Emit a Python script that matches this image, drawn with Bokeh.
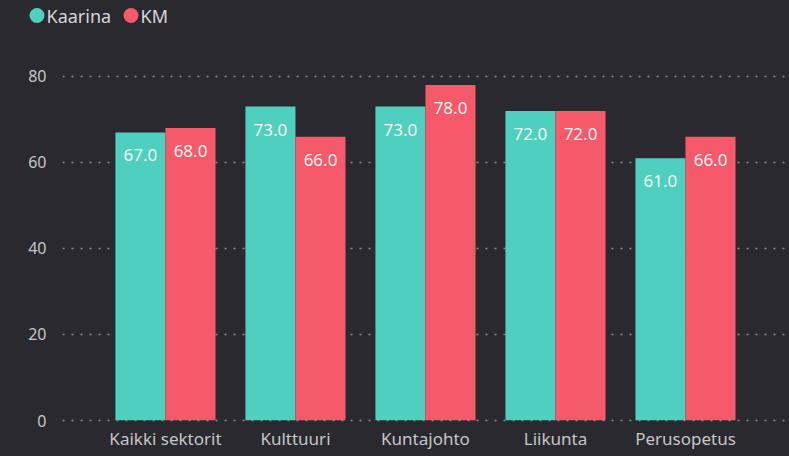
from bokeh.plotting import figure
from bokeh.layouts import column
from bokeh.models import Range1d, ColumnDataSource, FixedTicker
from bokeh.core.properties import value
from bokeh.embed import file_html
from bokeh.resources import INLINE

categories = ["Kaikki sektorit", "Kulttuuri", "Kuntajohto", "Liikunta", "Perusopetus"]
kaarina = [67, 73, 73, 72, 61]
km = [68, 66, 78, 72, 66]
series_names = ["Kaarina", "KM"]
y_ticks = [0, 20, 40, 60, 80]

BG = "#2a2930"
TEAL = "#4fd0bf"
RED = "#f5596a"
FONT = "Noto Sans"

# ---------- legend strip (a small figure in pixel units) ----------
leg = figure(width=789, height=48, output_backend="svg", toolbar_location=None,
             x_range=Range1d(0, 789), y_range=Range1d(48, 0),
             x_axis_location=None, y_axis_location=None,
             min_border_left=0, min_border_right=0, min_border_top=0, min_border_bottom=0,
             background_fill_color=BG, border_fill_color=BG)
if "frame_align" in leg.properties():
    leg.frame_align = False
leg.outline_line_color = None
leg.grid.visible = False
leg.styles = {"background-color": BG}
leg_src = ColumnDataSource(dict(
    cx=[36.5, 130.5], tx=[46, 140], y=[15, 15],
    color=[TEAL, RED], name=series_names,
))
leg.scatter(x="cx", y="y", source=leg_src, marker="circle", size=15,
            fill_color="color", line_color=None)
leg.text(x="tx", y="y", text="name", source=leg_src, text_align="left",
         text_baseline="middle", text_color="#d6d6d6", text_font_size="18px",
         text_font=value(FONT))

# ---------- main chart ----------
centers = [i + 0.5 for i in range(len(categories))]
bar_w = 0.385
src = ColumnDataSource(dict(
    xk=[c - bar_w / 2 for c in centers],
    xm=[c + bar_w / 2 for c in centers],
    kaarina=kaarina, km=km,
    lk=[f"{v:.1f}" for v in kaarina],
    lm=[f"{v:.1f}" for v in km],
))

p = figure(width=789, height=408, output_backend="svg", toolbar_location=None,
           x_range=Range1d(-0.292, 5.300), y_range=Range1d(0, 86.51),
           min_border_left=62, min_border_right=0, min_border_top=0, min_border_bottom=36,
           background_fill_color=BG, border_fill_color=BG)
if "frame_align" in p.properties():
    p.frame_align = False
p.outline_line_color = None
p.styles = {"background-color": BG}

p.vbar(x="xk", top="kaarina", width=bar_w, source=src, fill_color=TEAL, line_color=None)
p.vbar(x="xm", top="km", width=bar_w, source=src, fill_color=RED, line_color=None)

for xcol, lcol, vcol in (("xk", "lk", "kaarina"), ("xm", "lm", "km")):
    p.text(x=xcol, y=vcol, text=lcol, source=src, text_align="center", text_baseline="middle",
           y_offset=23, text_color="#f4f4f4", text_font_size="17px", text_font=value(FONT))

p.yaxis.ticker = FixedTicker(ticks=y_ticks)
p.yaxis.axis_line_color = None
p.yaxis.major_tick_line_color = None
p.yaxis.minor_tick_line_color = None
p.yaxis.major_label_text_color = "#c6c6c6"
p.yaxis.major_label_text_font_size = "16px"
p.yaxis.major_label_text_font = FONT
p.yaxis.major_label_standoff = 10

p.xaxis.ticker = FixedTicker(ticks=centers)
p.xaxis.major_label_overrides = {c: name for c, name in zip(centers, categories)}
p.xaxis.axis_line_color = "#8c8c8c"
p.xaxis.axis_line_dash = "2 7"
p.xaxis.axis_line_width = 1.5
p.xaxis.major_tick_line_color = None
p.xaxis.minor_tick_line_color = None
p.xaxis.major_label_text_color = "#c6c6c6"
p.xaxis.major_label_text_font_size = "17px"
p.xaxis.major_label_text_font = FONT
p.xaxis.major_label_standoff = 0

p.xgrid.grid_line_color = None
p.ygrid.ticker = FixedTicker(ticks=y_ticks)
p.ygrid.grid_line_color = "#8c8c8c"
p.ygrid.grid_line_dash = "2 7"
p.ygrid.grid_line_width = 1.5

page = column(leg, p, spacing=0, styles={"background-color": BG})

open("out.html", "w").write(file_html(page, INLINE))
